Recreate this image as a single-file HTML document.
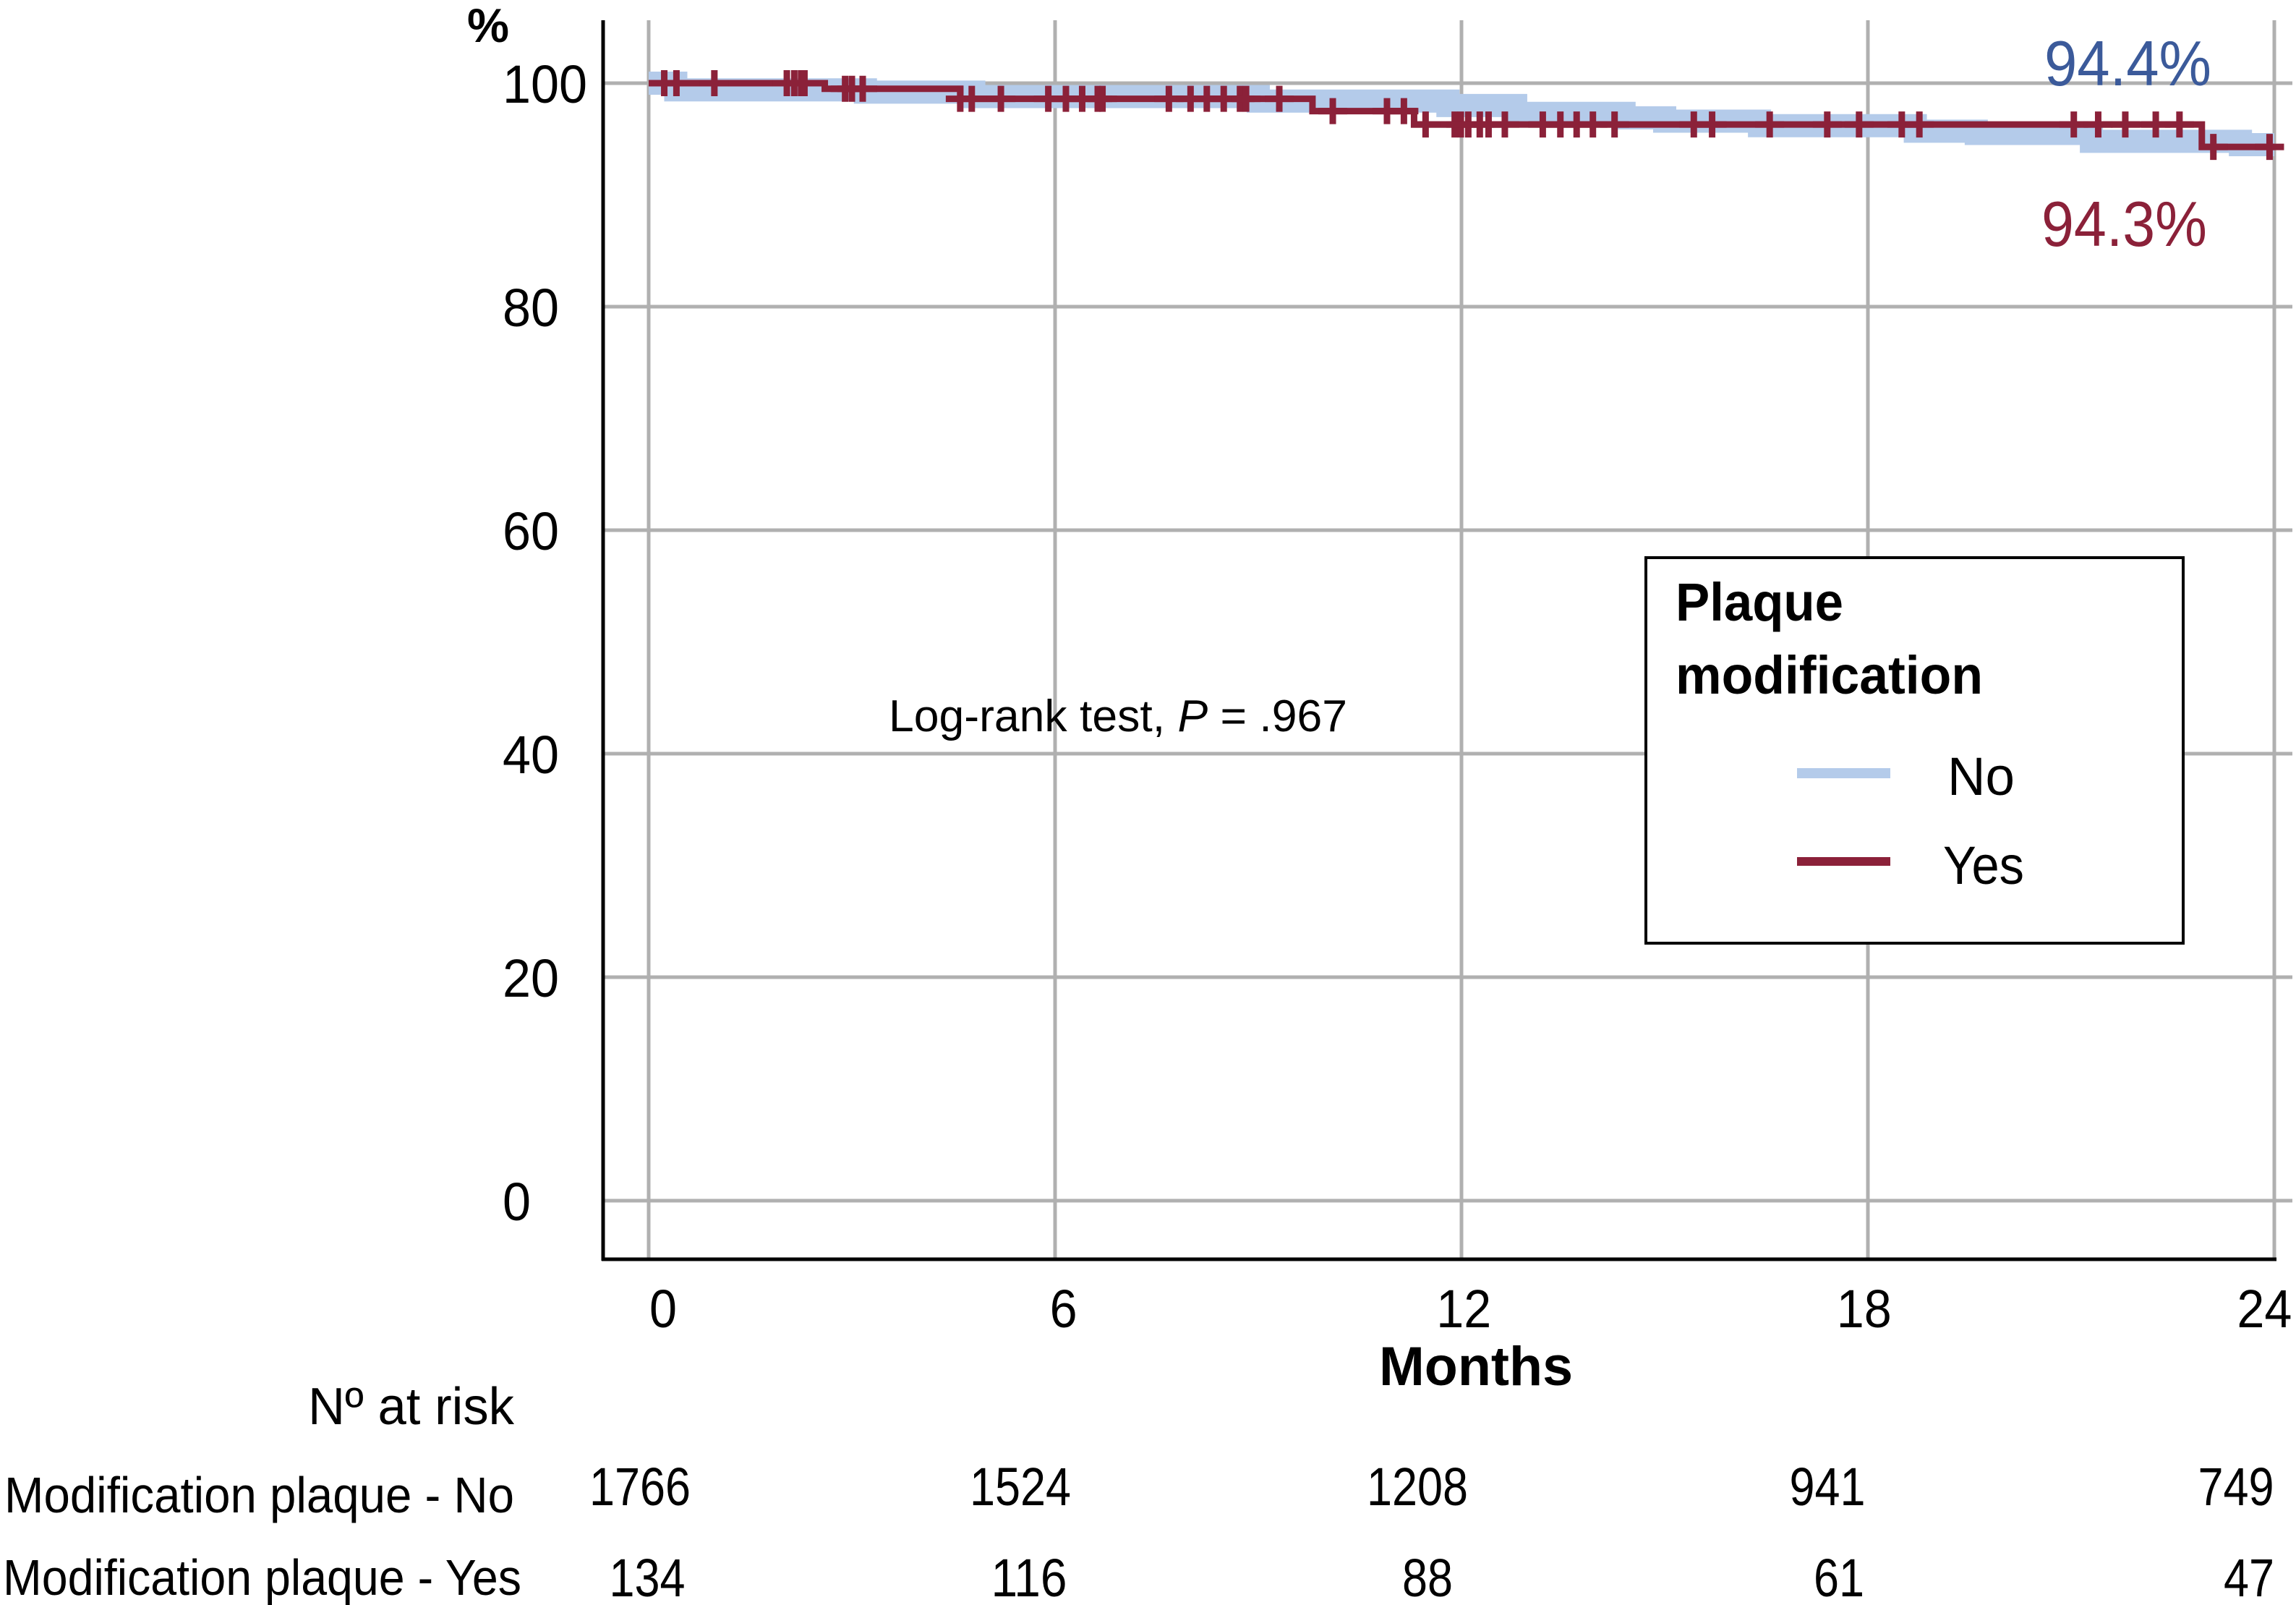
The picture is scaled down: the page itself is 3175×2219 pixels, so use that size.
<!DOCTYPE html>
<html><head><meta charset="utf-8"><style>
html,body{margin:0;padding:0;background:#fff;}
svg{display:block;font-family:"Liberation Sans",sans-serif;}
</style></head><body>
<svg id="chart" width="3175" height="2219" viewBox="0 0 3175 2219" xmlns="http://www.w3.org/2000/svg">
<g id="grid"></g>
<g id="series"></g>
<g id="axes"></g>
<g id="labels"></g>
<text x="646" y="58" font-size="66" font-weight="bold" textLength="58" lengthAdjust="spacingAndGlyphs">%</text>
<text x="2041" y="1915" font-size="76" font-weight="bold" text-anchor="middle" textLength="268" lengthAdjust="spacingAndGlyphs">Months</text>
<text x="1229" y="1011" font-size="62" textLength="634" lengthAdjust="spacingAndGlyphs">Log-rank test, <tspan font-style="italic">P</tspan> = .967</text>
<text x="2827" y="118" font-size="88" fill="#3b5a9a" textLength="231" lengthAdjust="spacingAndGlyphs">94.4%</text>
<text x="2823" y="340" font-size="88" fill="#8b2139" textLength="229" lengthAdjust="spacingAndGlyphs">94.3%</text>
<g>
<rect x="2276" y="771" width="743" height="533" fill="#fff" stroke="#000" stroke-width="4"/>
<text x="2317" y="858" font-size="74" font-weight="bold" textLength="232" lengthAdjust="spacingAndGlyphs">Plaque</text>
<text x="2317" y="959" font-size="74" font-weight="bold" textLength="425" lengthAdjust="spacingAndGlyphs">modification</text>
<line x1="2485" y1="1069" x2="2614" y2="1069" stroke="#b4cbea" stroke-width="14"/>
<text x="2693" y="1099" font-size="74" textLength="93" lengthAdjust="spacingAndGlyphs">No</text>
<line x1="2485" y1="1191" x2="2614" y2="1191" stroke="#8b2139" stroke-width="12"/>
<text x="2687" y="1222" font-size="74" textLength="112" lengthAdjust="spacingAndGlyphs">Yes</text>
</g>
<text x="711" y="1969" font-size="72" text-anchor="end" textLength="285" lengthAdjust="spacingAndGlyphs">Nº at risk</text>
<text x="6" y="2091" font-size="70" textLength="705" lengthAdjust="spacingAndGlyphs">Modification plaque - No</text>
<text x="4" y="2205" font-size="70" textLength="717" lengthAdjust="spacingAndGlyphs">Modification plaque - Yes</text>
<g id="risk"></g>
</svg>
<script>
const yTicks = [0, 20, 40, 60, 80, 100];
const xTicks = [0, 6, 12, 18, 24];
const noTimes = [0, 0.4, 3.2, 4.8, 9.0, 11.8, 12.8, 14.4, 15.0, 16.4, 18.7, 19.6, 21.3, 23.5];
const noSurv  = [100, 99.4, 99.2, 98.8, 98.4, 98.0, 97.3, 96.9, 96.6, 96.2, 95.7, 95.5, 94.8, 94.5];
const yesTimes = [0, 2.6, 4.6, 9.8, 11.3, 22.93];
const yesSurv  = [100, 99.5, 98.6, 97.5, 96.3, 94.3];
const yesCensor = [0.23,0.41,0.97,2.04,2.15,2.25,2.3,2.9,3.0,3.16,4.6,4.77,5.2,5.9,6.16,6.4,6.63,6.7,7.68,8.0,8.24,8.49,8.73,8.82,9.31,10.1,10.9,11.15,11.47,11.9,11.99,12.1,12.27,12.4,12.64,13.2,13.46,13.7,13.94,14.26,15.43,15.7,16.55,17.4,17.87,18.5,18.76,21.04,21.4,21.8,22.25,22.6,23.1,23.93];
const riskMonths = [0, 6, 12, 18, 24];
const riskNo = [1766, 1524, 1208, 941, 749];
const riskYes = [134, 116, 88, 61, 47];

const NS = "http://www.w3.org/2000/svg";
const X0 = 897, X1 = 3145, Y0 = 1660, Y100 = 115;
const xs = m => X0 + m * (X1 - X0) / 24;
const ys = v => Y0 - v * (Y0 - Y100) / 100;
function mk(tag, attrs, parent) {
  const e = document.createElementNS(NS, tag);
  for (const k in attrs) e.setAttribute(k, attrs[k]);
  parent.appendChild(e);
  return e;
}
const grid = document.getElementById('grid');
const axes = document.getElementById('axes');
const labels = document.getElementById('labels');
const series = document.getElementById('series');
const risk = document.getElementById('risk');

yTicks.forEach(v => {
  const l = mk('line', {x1: 834, x2: 3170, y1: ys(v), y2: ys(v), stroke: '#b0b0b0', 'stroke-width': 5}, grid);
  
  
  const s = String(v);
  const t = mk('text', {x: 695, y: ys(v) + 27, 'font-size': 74, textLength: s.length * 39, lengthAdjust: 'spacingAndGlyphs'}, labels);
  t.textContent = s;
  
  
});
xTicks.forEach(m => {
  const l = mk('line', {x1: xs(m), x2: xs(m), y1: 28, y2: 1741, stroke: '#b0b0b0', 'stroke-width': 5}, grid);
  
  
  const s = String(m);
  const t = mk('text', {x: xs(m) + 20 - m * 1.4, y: 1835, 'font-size': 74, 'text-anchor': 'middle', textLength: s.length * 38, lengthAdjust: 'spacingAndGlyphs'}, labels);
  t.textContent = s;
  
  
});
let a = mk('line', {x1: 834, x2: 834, y1: 28, y2: 1743, stroke: '#000', 'stroke-width': 5}, axes);


a = mk('line', {x1: 832, x2: 3148, y1: 1741, y2: 1741, stroke: '#000', 'stroke-width': 5}, axes);



function stepPath(times, surv, end) {
  let d = 'M' + xs(times[0]) + ' ' + ys(surv[0]);
  for (let i = 1; i < times.length; i++) {
    d += ' H' + xs(times[i]) + ' V' + ys(surv[i]);
  }
  return d + ' H' + xs(end);
}
function survAt(times, surv, t) {
  let s = surv[0];
  for (let i = 0; i < times.length; i++) if (times[i] <= t) s = surv[i];
  return s;
}
const bp = mk('path', {d: stepPath(noTimes, noSurv, 24), fill: 'none', stroke: '#b4cbea', 'stroke-width': 32, 'stroke-linejoin': 'miter'}, series);



const rp = mk('path', {d: stepPath(yesTimes, yesSurv, 24), fill: 'none', stroke: '#8b2139', 'stroke-width': 9}, series);


yesCensor.forEach(t => {
  const cx = xs(t), cy = ys(survAt(yesTimes, yesSurv, t));
  const g = mk('path', {d: `M${cx-20} ${cy} H${cx+20} M${cx} ${cy-18} V${cy+18}`, stroke: '#8b2139', 'stroke-width': 9, fill: 'none'}, series);
  
  
});

const noX = [885, 1411, 1960, 2527, 3092];
riskMonths.forEach((m, i) => {
  const s1 = String(riskNo[i]);
  const t1 = mk('text', {x: noX[i], y: 2081, 'font-size': 74, 'text-anchor': 'middle', textLength: s1.length * 35, lengthAdjust: 'spacingAndGlyphs'}, risk);
  t1.textContent = s1;
  
  
  const s2 = String(riskYes[i]);
  const t2 = mk('text', {x: noX[i] + 10 + i * 2, y: 2207, 'font-size': 74, 'text-anchor': 'middle', textLength: s2.length * 35, lengthAdjust: 'spacingAndGlyphs'}, risk);
  t2.textContent = s2;
  
  
});
</script>
</body></html>
